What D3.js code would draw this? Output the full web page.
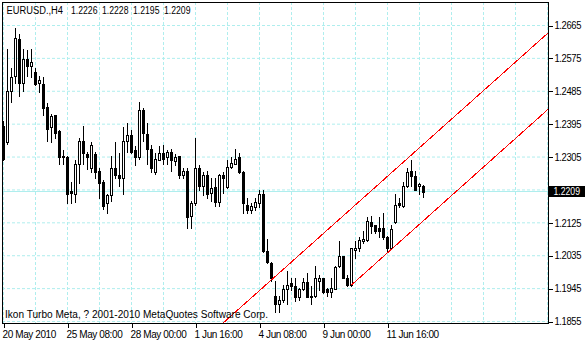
<!DOCTYPE html>
<html>
<head>
<meta charset="utf-8">
<script src="https://cdn.jsdelivr.net/npm/d3@7"></script>
<style>
  body { margin: 0; background: #fff; }
  svg text { font-family: "Liberation Sans", Arial, sans-serif; font-size: 10px; }
  .axis text { letter-spacing: -0.4px; }
</style>
</head>
<body>
<div id="chart"></div>
<script>
var svgWidth = 586;
var svgHeight = 340;

// plot frame (MT4 style, price scale on the right)
var frame = { left: 2, top: 2, right: 548, bottom: 323 };

// EURUSD H4 bars, oldest first
var opens = [1.2391, 1.2345, 1.2487, 1.2528, 1.2629, 1.2507, 1.2574, 1.2553, 1.2539, 1.2507,
  1.2504, 1.2441, 1.2386, 1.2419, 1.2375, 1.2308, 1.2306, 1.2211, 1.2205, 1.2287,
  1.2348, 1.2312, 1.2276, 1.2312, 1.2266, 1.2236, 1.2178, 1.2200, 1.2274, 1.2255,
  1.2249, 1.2350, 1.2364, 1.2323, 1.2304, 1.2435, 1.2367, 1.2326, 1.2263, 1.2298,
  1.2315, 1.2304, 1.2318, 1.2293, 1.2307, 1.2257, 1.2268, 1.2145, 1.2178, 1.2276,
  1.2227, 1.2255, 1.2208, 1.2222, 1.2181, 1.2257, 1.2222, 1.2279, 1.2287, 1.2304,
  1.2263, 1.2175, 1.2159, 1.2167, 1.2178, 1.2205, 1.2049, 1.2016, 1.1926, 1.1904,
  1.1915, 1.1945, 1.1959, 1.1953, 1.1921, 1.1943, 1.1964, 1.1926, 1.1926, 1.1967,
  1.1973, 1.1943, 1.1935, 1.1945, 1.2008, 1.2033, 1.1975, 1.1956, 1.2052, 1.2055,
  1.2074, 1.2079, 1.2126, 1.2118, 1.2110, 1.2110, 1.2085, 1.2057, 1.2126, 1.2178,
  1.2172, 1.2225, 1.2266, 1.2252, 1.2225, 1.2226];
var highs = [1.2405, 1.2602, 1.2550, 1.2659, 1.2643, 1.2602, 1.2597, 1.2602, 1.2550, 1.2528,
  1.2523, 1.2452, 1.2424, 1.2421, 1.2378, 1.2323, 1.2309, 1.2236, 1.2296, 1.2356,
  1.2391, 1.2318, 1.2345, 1.2318, 1.2274, 1.2241, 1.2205, 1.2309, 1.2345, 1.2315,
  1.2386, 1.2397, 1.2380, 1.2334, 1.2455, 1.2438, 1.2397, 1.2337, 1.2315, 1.2334,
  1.2337, 1.2323, 1.2328, 1.2312, 1.2309, 1.2276, 1.2274, 1.2186, 1.2356, 1.2282,
  1.2263, 1.2268, 1.2249, 1.2249, 1.2260, 1.2263, 1.2296, 1.2304, 1.2328, 1.2315,
  1.2266, 1.2192, 1.2178, 1.2192, 1.2216, 1.2216, 1.2082, 1.2019, 1.1967, 1.1926,
  1.1956, 1.1992, 1.1975, 1.1975, 1.1948, 1.1975, 1.1989, 1.1953, 1.2008, 1.1981,
  1.1975, 1.1948, 1.1975, 1.2008, 1.2074, 1.2035, 1.1981, 1.2057, 1.2074, 1.2085,
  1.2104, 1.2140, 1.2145, 1.2120, 1.2140, 1.2153, 1.2090, 1.2118, 1.2205, 1.2194,
  1.2236, 1.2274, 1.2298, 1.2266, 1.2233, 1.2228];
var lows = [1.2296, 1.2342, 1.2455, 1.2507, 1.2473, 1.2487, 1.2528, 1.2523, 1.2501, 1.2482,
  1.2419, 1.2350, 1.2345, 1.2356, 1.2287, 1.2285, 1.2178, 1.2178, 1.2183, 1.2233,
  1.2287, 1.2271, 1.2263, 1.2247, 1.2194, 1.2164, 1.2153, 1.2186, 1.2247, 1.2225,
  1.2205, 1.2320, 1.2315, 1.2282, 1.2301, 1.2348, 1.2285, 1.2263, 1.2260, 1.2296,
  1.2287, 1.2287, 1.2266, 1.2282, 1.2247, 1.2249, 1.2112, 1.2112, 1.2175, 1.2214,
  1.2200, 1.2194, 1.2186, 1.2172, 1.2172, 1.2208, 1.2219, 1.2274, 1.2285, 1.2262,
  1.2151, 1.2153, 1.2153, 1.2159, 1.2167, 1.2046, 1.2016, 1.1967, 1.1880, 1.1880,
  1.1907, 1.1904, 1.1940, 1.1910, 1.1913, 1.1940, 1.1921, 1.1904, 1.1923, 1.1940,
  1.1932, 1.1926, 1.1921, 1.1943, 1.2005, 1.1973, 1.1953, 1.1953, 1.2030, 1.2049,
  1.2071, 1.2074, 1.2096, 1.2096, 1.2085, 1.2082, 1.2044, 1.2057, 1.2124, 1.2167,
  1.2167, 1.2222, 1.2227, 1.2214, 1.2205, 1.2195];
var closes = [1.2301, 1.2487, 1.2523, 1.2632, 1.2507, 1.2574, 1.2553, 1.2564, 1.2504, 1.2515,
  1.2438, 1.2383, 1.2416, 1.2370, 1.2304, 1.2305, 1.2205, 1.2207, 1.2287, 1.2348,
  1.2315, 1.2306, 1.2337, 1.2263, 1.2233, 1.2172, 1.2200, 1.2276, 1.2257, 1.2249,
  1.2350, 1.2364, 1.2320, 1.2304, 1.2435, 1.2370, 1.2328, 1.2274, 1.2301, 1.2315,
  1.2301, 1.2318, 1.2296, 1.2304, 1.2257, 1.2268, 1.2140, 1.2178, 1.2276, 1.2227,
  1.2255, 1.2205, 1.2219, 1.2181, 1.2257, 1.2249, 1.2279, 1.2290, 1.2301, 1.2263,
  1.2178, 1.2161, 1.2170, 1.2181, 1.2205, 1.2049, 1.2019, 1.1973, 1.1904, 1.1915,
  1.1945, 1.1956, 1.1951, 1.1921, 1.1943, 1.1964, 1.1923, 1.1923, 1.1973, 1.1975,
  1.1935, 1.1935, 1.1948, 1.2005, 1.2033, 1.1975, 1.1956, 1.2055, 1.2057, 1.2077,
  1.2082, 1.2129, 1.2115, 1.2104, 1.2104, 1.2085, 1.2057, 1.2107, 1.2175, 1.2175,
  1.2225, 1.2263, 1.2252, 1.2214, 1.2230, 1.2209];

// time scale labels and the bar they sit on
var timeLabels = ["20 May 2010", "25 May 08:00", "28 May 00:00", "1 Jun 16:00", "4 Jun 08:00", "9 Jun 00:00", "11 Jun 16:00"];
var timeLabelBars = [0, 16, 32, 48, 64, 80, 96];

// price scale
var priceTicks = [1.1855, 1.1945, 1.2035, 1.2125, 1.2215, 1.2305, 1.2395, 1.2485, 1.2575, 1.2665];
var lastPrice = 1.2209;

// equidistant channel, [bar, price] end points
var channelUpper = [[50, 1.1803], [137, 1.2653]];
var channelLower = [[87, 1.1955], [137, 1.2444]];

var symbolText = "EURUSD.,H4";
var copyrightText = "Ikon Turbo Meta, ? 2001-2010 MetaQuotes Software Corp.";

var gridColor = "#afeeee";
var priceTextWidth = 26.5;
var bars = d3.range(opens.length);

var svg = d3.select("#chart")
  .append("svg")
  .attr("width", svgWidth)
  .attr("height", svgHeight)
  .style("display", "block");

// 4 px per bar
var xScale = d3.scaleLinear()
  .domain([0, 136])
  .range([3.5, 547.5]);

var yScale = d3.scaleLinear()
  .domain([1.1855, 1.2665])
  .range([321.5, 25.5]);

var fmt = d3.format(".4f");

svg.append("clipPath")
  .attr("id", "plotClip")
  .append("rect")
  .attr("x", frame.left)
  .attr("y", frame.top)
  .attr("width", frame.right - frame.left)
  .attr("height", frame.bottom - frame.top);

var plotGroup = svg.append("g").attr("clip-path", "url(#plotClip)");

// grid
plotGroup.selectAll(".vgrid")
  .data(d3.range(0, 137, 8))
  .enter()
  .append("line")
  .attr("x1", d => xScale(d))
  .attr("x2", d => xScale(d))
  .attr("y1", frame.top)
  .attr("y2", frame.bottom)
  .attr("stroke", gridColor)
  .attr("stroke-dasharray", "3,2");

plotGroup.selectAll(".hgrid")
  .data(priceTicks)
  .enter()
  .append("line")
  .attr("x1", frame.left)
  .attr("x2", frame.right)
  .attr("y1", d => yScale(d))
  .attr("y2", d => yScale(d))
  .attr("stroke", gridColor)
  .attr("stroke-dasharray", "3,2");

// last price line
var lastY = Math.round(yScale(lastPrice)) - 1;
plotGroup.append("line")
  .attr("x1", frame.left)
  .attr("x2", frame.right)
  .attr("y1", lastY + 0.5)
  .attr("y2", lastY + 0.5)
  .attr("stroke", gridColor);

// candles
var py = v => Math.round(yScale(v));

var candleGroup = plotGroup.append("g").attr("shape-rendering", "crispEdges");

candleGroup.selectAll(".wick")
  .data(bars)
  .enter()
  .append("line")
  .attr("x1", i => xScale(i))
  .attr("x2", i => xScale(i))
  .attr("y1", i => py(highs[i]))
  .attr("y2", i => py(lows[i]) + 1)
  .attr("stroke", "#000");

// bearish: solid black body
candleGroup.selectAll(".down")
  .data(bars.filter(i => closes[i] < opens[i]))
  .enter()
  .append("rect")
  .attr("x", i => xScale(i) - 1.5)
  .attr("y", i => py(opens[i]))
  .attr("width", 3)
  .attr("height", i => Math.max(1, py(closes[i]) - py(opens[i]) + 1))
  .attr("fill", "#000");

// bullish: white body with black outline
candleGroup.selectAll(".up")
  .data(bars.filter(i => closes[i] >= opens[i]))
  .enter()
  .append("rect")
  .attr("x", i => xScale(i) - 1)
  .attr("y", i => py(closes[i]) + 0.5)
  .attr("width", 2)
  .attr("height", i => Math.max(0, py(opens[i]) - py(closes[i])))
  .attr("fill", "#fff")
  .attr("stroke", "#000");

// footer text sits under the channel line
svg.append("text")
  .attr("x", 5)
  .attr("y", 318)
  .attr("textLength", 263)
  .attr("lengthAdjust", "spacingAndGlyphs")
  .text(copyrightText);

// channel lines
var channelLine = d3.line()
  .x(d => xScale(d[0]))
  .y(d => yScale(d[1]));

plotGroup.selectAll(".channel")
  .data([channelUpper, channelLower])
  .enter()
  .append("path")
  .attr("d", channelLine)
  .attr("fill", "none")
  .attr("stroke", "#ff0000")
  .attr("stroke-width", 1)
  .attr("shape-rendering", "crispEdges");

// frame
svg.append("rect")
  .attr("x", frame.left + 0.5)
  .attr("y", frame.top + 0.5)
  .attr("width", frame.right - frame.left)
  .attr("height", frame.bottom - frame.top)
  .attr("fill", "none")
  .attr("stroke", "#000")
  .attr("shape-rendering", "crispEdges");

// right price axis
var rightAxis = d3.axisRight(yScale)
  .tickValues(priceTicks)
  .tickSize(4)
  .tickPadding(2)
  .tickFormat(fmt);

var yAxis = svg.append("g")
  .attr("class", "axis")
  .attr("transform", `translate(${frame.right + 0.5}, 0)`)
  .call(rightAxis);
yAxis.select(".domain").remove();
yAxis.selectAll("text")
  .attr("font-family", null)
  .attr("font-size", null)
  .attr("textLength", priceTextWidth)
  .attr("lengthAdjust", "spacingAndGlyphs")
  .attr("fill", "#000");
// the last price tag covers the nearest scale label
yAxis.selectAll(".tick")
  .filter(d => Math.abs(yScale(d) - lastY) < 8)
  .select("text")
  .remove();
yAxis.selectAll("line").attr("shape-rendering", "crispEdges");

// bottom time axis
var bottomAxis = d3.axisBottom(xScale)
  .tickValues(timeLabelBars)
  .tickSize(4)
  .tickPadding(3)
  .tickFormat((d, i) => timeLabels[i]);

var xAxis = svg.append("g")
  .attr("class", "axis")
  .attr("transform", `translate(0, ${frame.bottom + 0.5})`)
  .call(bottomAxis);
xAxis.select(".domain").remove();
xAxis.selectAll("text")
  .attr("font-family", null)
  .attr("font-size", null)
  .attr("text-anchor", "start")
  .attr("x", -1.5)
  .attr("fill", "#000");
xAxis.selectAll("line").attr("shape-rendering", "crispEdges");

// last price tag
svg.append("rect")
  .attr("x", frame.right + 1)
  .attr("y", lastY - 5)
  .attr("width", svgWidth - frame.right - 2)
  .attr("height", 11)
  .attr("fill", "#000");

svg.append("text")
  .attr("x", frame.right + 5.5)
  .attr("y", lastY + 0.5)
  .attr("dy", "0.35em")
  .attr("textLength", priceTextWidth)
  .attr("lengthAdjust", "spacingAndGlyphs")
  .attr("fill", "#fff")
  .text(fmt(lastPrice));

// header: symbol and last bar OHLC
var last = opens.length - 1;
var headerValues = [opens[last], highs[last], lows[last], closes[last]];

svg.append("text")
  .attr("x", 6.5)
  .attr("y", 14)
  .attr("textLength", 56.5)
  .attr("lengthAdjust", "spacingAndGlyphs")
  .text(symbolText);

svg.selectAll(".ohlc")
  .data(headerValues)
  .enter()
  .append("text")
  .attr("x", (d, i) => 71 + i * 31)
  .attr("y", 14)
  .attr("textLength", priceTextWidth)
  .attr("lengthAdjust", "spacingAndGlyphs")
  .text(d => fmt(d));
</script>
</body>
</html>
